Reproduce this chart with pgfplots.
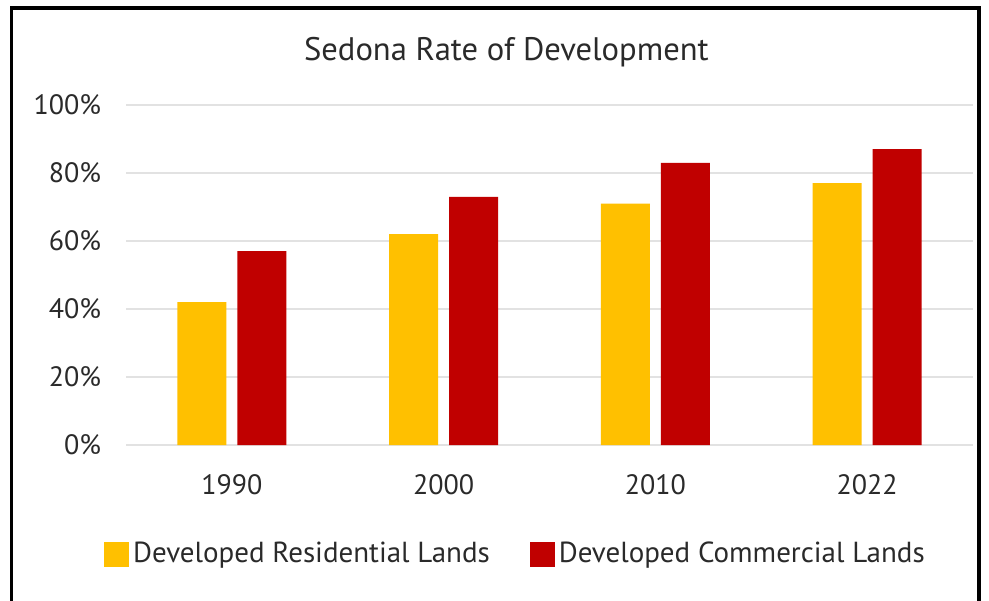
\documentclass[border=0pt]{standalone}
\usepackage{fontspec}
\setmainfont{PT Sans}
\usepackage{pgfplots}
\pgfplotsset{compat=1.18}
\definecolor{resy}{HTML}{FFC000}
\definecolor{comr}{HTML}{C00000}
\definecolor{gridc}{HTML}{E2E2E2}
\definecolor{txt}{HTML}{2A2A2A}
\begin{document}
\begin{tikzpicture}
\path[use as bounding box] (0,0) rectangle (494.5pt,300pt);
\fill[white] (0,0) rectangle (494.5pt,300pt);
\draw[line width=1.7pt] (5.8pt,-5pt) rectangle (489.5pt,296pt);
\begin{axis}[
  at={(63pt,77.5pt)}, anchor=south west,
  width=423.5pt, height=170pt, scale only axis,
  xmin=-0.5, xmax=3.5, ymin=0, ymax=100,
  axis line style={draw=none},
  tick style={draw=none},
  ytick={0,20,40,60,80,100},
  yticklabels={0\%,20\%,40\%,60\%,80\%,100\%},
  xtick={0,1,2,3}, xticklabels={1990,2000,2010,2022},
  ymajorgrids, grid style={gridc, line width=0.75pt},
  tick label style={font=\fontsize{14}{16}\selectfont, text=txt},
  yticklabel style={xshift=-9pt},
  xticklabel style={yshift=-11pt},
  legend style={at={(0.461,-0.3206)}, anchor=center, draw=none, fill=none,
    legend columns=2, font=\fontsize{14.5}{17}\selectfont, text=txt,
    /tikz/every even column/.append style={column sep=18pt}},
  legend image code/.code={\fill[#1] (-5pt,-6.25pt) rectangle (7.5pt,6.25pt);},
]
\addplot[ybar, bar width=24.5pt, bar shift=-15pt, fill=resy, draw=none]
  coordinates {(0,42) (1,62) (2,71) (3,77)};
\addlegendentry{Developed Residential Lands}
\addplot[ybar, bar width=24.5pt, bar shift=15pt, fill=comr, draw=none]
  coordinates {(0,57) (1,73) (2,83) (3,87)};
\addlegendentry{Developed Commercial Lands}
\end{axis}
\node[font=\fontsize{16.3}{19}\selectfont, text=txt] at (253.2pt,274pt) {Sedona Rate of Development};
\end{tikzpicture}
\end{document}
